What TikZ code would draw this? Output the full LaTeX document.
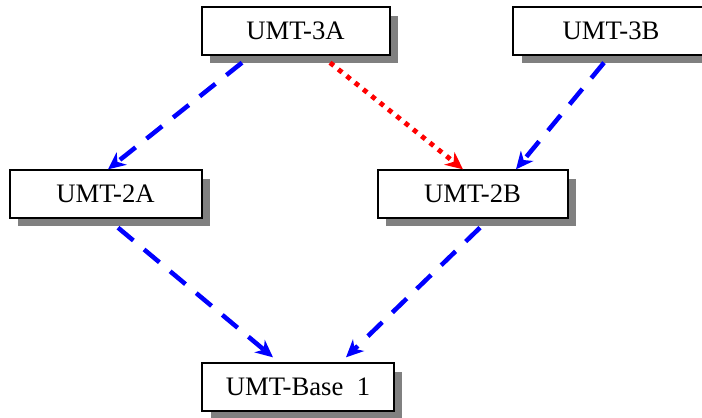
\documentclass[tikz,border=0pt]{standalone}
\usepackage{fontspec}
\setmainfont{Liberation Serif}
\usetikzlibrary{arrows.meta,shadows,calc}
\begin{document}
\begin{tikzpicture}[x=0.75pt,y=-0.75pt,
  umtbox/.style={draw=black,line width=1.5pt,fill=white,inner sep=0pt,
    minimum height=35.5pt,
    font=\fontsize{20pt}{23pt}\selectfont,
    drop shadow={shadow xshift=6.4pt,shadow yshift=-6.4pt,fill=gray,opacity=1}},
  bluedash/.style={draw=blue,line width=3.4pt,dash pattern=on 15pt off 10.5pt,
    -{Stealth[length=13pt,width=12pt,inset=4pt]}},
  reddot/.style={draw=red,line width=3.6pt,dash pattern=on 3.6pt off 4.4pt,
    -{Stealth[length=13pt,width=12pt,inset=4pt]}}]
\useasboundingbox (0,0) rectangle (702,417);
\node[umtbox,minimum width=141pt] (u3a) at (295.5,31) {UMT-3A};
\node[umtbox,minimum width=147pt] (u3b) at (611,31) {UMT-3B};
\node[umtbox,minimum width=144pt] (u2a) at (105.5,194) {UMT-2A};
\node[umtbox,minimum width=142.5pt] (u2b) at (472.5,194) {UMT-2B};
\node[umtbox,minimum width=143.5pt] (ub) at (298,387) {UMT-Base\ \ 1};
\draw[bluedash] ($(u3a.south)+(-53.5,7)$) -- ($(u2a.north)+(2.5,0)$);
\draw[reddot] ($(u3a.south)+(34.5,7)$) -- ($(u2b.north)+(-9.5,0)$);
\draw[bluedash] ($(u3b.south)+(-7,7)$) -- ($(u2b.north)+(43.5,0)$);
\draw[bluedash] ($(u2a.south)+(12.5,9)$) -- ($(ub.north)+(-25,-5)$);
\draw[bluedash] ($(u2b.south)+(7.5,9)$) -- ($(ub.north)+(48,-5)$);
\end{tikzpicture}
\end{document}
